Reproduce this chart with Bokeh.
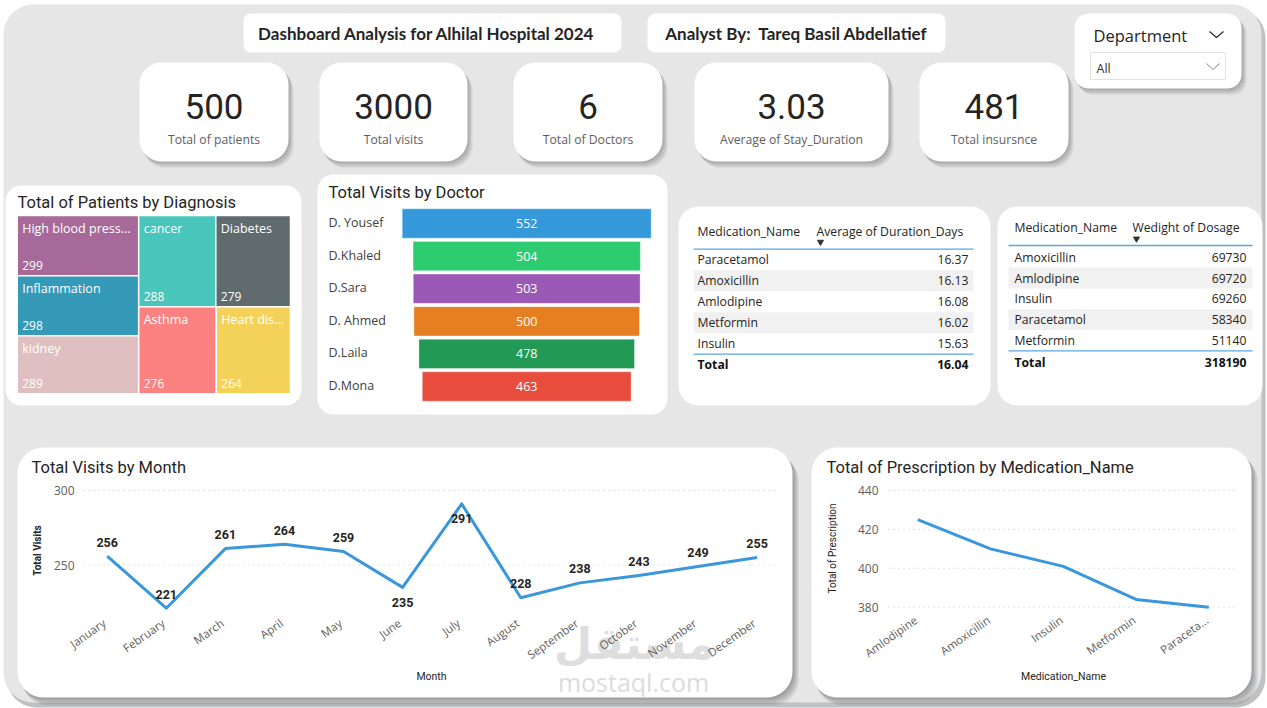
import math
from bokeh.plotting import figure
from bokeh.models import Range1d
from bokeh.core.properties import value
from bokeh.embed import file_html
from bokeh.resources import INLINE

W, H = 1267, 708

# ---------------- data ----------------
report_title = "Dashboard Analysis for Alhilal Hospital 2024"
analyst_line = "Analyst By:  Tareq Basil Abdellatief"
slicer_title = "Department"
slicer_value = "All"

kpi_values = ["500", "3000", "6", "3.03", "481"]
kpi_labels = ["Total of patients", "Total visits", "Total of Doctors",
              "Average of Stay_Duration", "Total insursnce"]

diagnosis = ["High blood pressure", "Inflammation", "kidney", "cancer",
             "Diabetes", "Asthma", "Heart disease"]
diagnosis_patients = [299, 298, 289, 288, 279, 276, 264]
diagnosis_colors = ["#A66999", "#3599B8", "#DFBFBF", "#4AC5BB",
                    "#5F6B6D", "#FB8281", "#F4D25A"]

doctors = ["D. Yousef", "D.Khaled", "D.Sara", "D. Ahmed", "D.Laila", "D.Mona"]
doctor_visits = [552, 504, 503, 500, 478, 463]
doctor_colors = ["#3498DB", "#2ECC71", "#9B59B6", "#E67E22", "#229954", "#E74C3C"]

duration_meds = ["Paracetamol", "Amoxicillin", "Amlodipine", "Metformin", "Insulin"]
duration_days = [16.37, 16.13, 16.08, 16.02, 15.63]
duration_total = 16.04

dosage_meds = ["Amoxicillin", "Amlodipine", "Insulin", "Paracetamol", "Metformin"]
dosage_weight = [69730, 69720, 69260, 58340, 51140]

months = ["January", "February", "March", "April", "May", "June", "July",
          "August", "September", "October", "November", "December"]
month_visits = [256, 221, 261, 264, 259, 235, 291, 228, 238, 243, 249, 255]
month_ticks = [250, 300]

rx_meds = ["Amlodipine", "Amoxicillin", "Insulin", "Metformin", "Paracetamol"]
rx_totals = [425, 410, 401, 384, 380]
rx_ticks = [380, 400, 420, 440]

# ---------------- styling ----------------
DIN = value("Roboto")
UI = value("Open Sans")
INK = "#252423"
GREY = "#605E5C"
LINE_BLUE = "#3A97DB"
TABLE_RULE = "#58A6E3"

p = figure(width=W, height=H, x_range=Range1d(0, W), y_range=Range1d(H, 0),
           output_backend="svg", toolbar_location=None, min_border=0)
p.axis.visible = False
p.grid.visible = False
p.outline_line_color = None
p.background_fill_color = "white"
p.border_fill_color = "white"


def rounded(x0, y0, x1, y1, r, n=10):
    xs, ys = [], []
    corners = [((x0 + r, y0 + r), 180), ((x1 - r, y0 + r), 270),
               ((x1 - r, y1 - r), 0), ((x0 + r, y1 - r), 90)]
    for (cx, cy), a0 in corners:
        for k in range(n + 1):
            t = math.radians(a0 + 90 * k / n)
            xs.append(cx + r * math.cos(t))
            ys.append(cy + r * math.sin(t))
    return xs, ys


def card(x0, y0, x1, y1, r, color="white", shadow=0):
    for k in range(shadow):
        d = 1.5 + 1.6 * k
        xs, ys = rounded(x0 + d * 0.6, y0 + d, x1 + d * 0.8, y1 + d, r)
        p.patch(xs, ys, fill_color="#000000", fill_alpha=0.07, line_color=None)
    xs, ys = rounded(x0, y0, x1, y1, r)
    p.patch(xs, ys, fill_color=color, line_color=None)


def label(x, y, s, size, color=INK, font=UI, align="left", baseline="middle",
          style="normal", angle=0.0, **kw):
    xs = x if isinstance(x, list) else [x]
    ys = y if isinstance(y, list) else [y] * len(xs)
    ss = s if isinstance(s, list) else [s] * len(xs)
    ss = [t.replace("  ", "\u00a0 ") for t in ss]
    p.text(x=xs, y=ys, text=ss, text_font=font, text_font_size=f"{size}px",
           text_color=color, text_align=align, text_baseline=baseline,
           text_font_style=style, angle=angle, **kw)


def linear(v_a, px_a, v_b, px_b, px_lo, px_hi):
    k = (v_b - v_a) / (px_b - px_a)
    return Range1d(v_a + (px_lo - px_a) * k, v_a + (px_hi - px_a) * k)


# ---------------- canvas ----------------
xs, ys = rounded(6, 8, 1265, 707, 30)
p.patch(xs, ys, fill_color="#BEC1C4", line_color=None)
xs, ys = rounded(3, 4, 1261, 702, 30)
p.patch(xs, ys, fill_color="#E6E6E6", line_color=None)

# header boxes
card(243, 13, 621, 52, 8)
label(426, 33, report_title, 17, font=value("Lato"), align="center", style="bold")
card(647, 13, 945, 52, 8)
label(796, 33, analyst_line, 17, font=value("Lato"), align="center", style="bold")

# department slicer
card(1074, 13, 1241, 88, 14, shadow=4)
label(1093, 35, slicer_title, 16.5, color="#252423")
p.line([1209, 1216, 1223], [31, 37, 31], line_color="#333333", line_width=1.3)
p.quad(left=1090, right=1225, top=52, bottom=79, fill_color="white",
       line_color="#E3E3E3", line_width=1)
label(1096, 68, slicer_value, 12.5, color="#333333")
p.line([1206, 1212.5, 1219], [63, 69, 63], line_color="#7F8A99", line_width=1)

# KPI cards
kpi_boxes = [(139, 288), (319, 467), (513, 662), (694, 888), (919, 1068)]
for (a, b), v, t in zip(kpi_boxes, kpi_values, kpi_labels):
    card(a, 62, b, 161, 22, shadow=4)
    label((a + b) / 2, 106, v, 35, font=DIN, align="center")
    label((a + b) / 2, 139, t, 12.2, color=GREY, align="center")

# ---------------- treemap ----------------
card(5, 185, 301, 405, 16)
label(17, 202, "Total of Patients by Diagnosis", 16.5, font=DIN)
TM_X0, TM_X1, TM_Y0, TM_Y1 = 16.7, 290.0, 215.0, 393.3
p.extra_x_ranges["tm_x"] = linear(0, TM_X0, 1, TM_X1, 0, W)
p.extra_y_ranges["tm_y"] = linear(0, TM_Y0, 1, TM_Y1, H, 0)

total_patients = sum(diagnosis_patients)
first_col = [0, 1, 2]
rest_rows = [[3, 4], [5, 6]]
col_w = sum(diagnosis_patients[i] for i in first_col) / total_patients
tiles = {}
top = 0.0
col_sum = sum(diagnosis_patients[i] for i in first_col)
for i in first_col:
    h = diagnosis_patients[i] / col_sum
    tiles[i] = (0.0, col_w, top, top + h)
    top += h
rest_sum = sum(diagnosis_patients[i] for row in rest_rows for i in row)
top = 0.0
for row in rest_rows:
    row_sum = sum(diagnosis_patients[i] for i in row)
    h = row_sum / rest_sum
    left = col_w
    for i in row:
        w = (1 - col_w) * diagnosis_patients[i] / row_sum
        tiles[i] = (left, left + w, top, top + h)
        left += w
    top += h

order = list(range(len(diagnosis)))
p.quad(left=[tiles[i][0] for i in order], right=[tiles[i][1] for i in order],
       top=[tiles[i][2] for i in order], bottom=[tiles[i][3] for i in order],
       fill_color=diagnosis_colors, line_color="white", line_width=1.5,
       x_range_name="tm_x", y_range_name="tm_y")


def fit(name, px_width, char_px=6.6):
    room = int((px_width - 10) / char_px)
    return name if len(name) <= room else name[:room] + "..."


tile_names = [fit(diagnosis[i], (tiles[i][1] - tiles[i][0]) * (TM_X1 - TM_X0)) for i in order]
label([tiles[i][0] for i in order], [tiles[i][2] for i in order], tile_names, 12.5,
      color="white", x_offset=5, y_offset=13, x_range_name="tm_x", y_range_name="tm_y")
label([tiles[i][0] for i in order], [tiles[i][3] for i in order],
      [str(diagnosis_patients[i]) for i in order], 12, color="white",
      x_offset=5, y_offset=-10, x_range_name="tm_x", y_range_name="tm_y")

# ---------------- visits by doctor ----------------
card(317, 174, 667, 414, 16)
label(328, 192, "Total Visits by Doctor", 16.5, font=DIN)
p.extra_x_ranges["doc_x"] = linear(0, 526.2, 100, 526.2 + 45.1, 0, W)
p.extra_y_ranges["doc_y"] = linear(0, 223.0, 1, 255.6, H, 0)
doc_idx = list(range(len(doctors)))
p.hbar(y=doc_idx, left=[-v / 2 for v in doctor_visits], right=[v / 2 for v in doctor_visits],
       height=0.9, fill_color=doctor_colors, line_color="white", line_alpha=0.35,
       x_range_name="doc_x", y_range_name="doc_y")
label([0] * len(doctors), doc_idx, [str(v) for v in doctor_visits], 12.5, color="white",
      align="center", x_range_name="doc_x", y_range_name="doc_y")
label([328] * len(doctors), doc_idx, doctors, 12.5, color="#404040", y_offset=-1,
      y_range_name="doc_y")

# ---------------- tables ----------------
def table(x0, y0, x1, y1, name_x, col2_x, val_x, rule_x0, rule_x1, head_y, rule_y,
          row_y0, row_step, end_rule_y, total_y, header2, names, vals, total):
    card(x0, y0, x1, y1, 20)
    n = len(names)
    for i in range(n):
        if i % 2 == 1:
            cy = row_y0 + i * row_step
            p.quad(left=rule_x0, right=rule_x1, top=cy - row_step / 2, bottom=cy + row_step / 2,
                   fill_color="#F1F1F1", line_color=None)
    label(name_x, head_y, "Medication_Name", 12.2, color=INK)
    label(col2_x, head_y, header2, 12.2, color=INK)
    p.scatter([col2_x + 4], [head_y + 11], marker="inverted_triangle", size=6,
              color="#333333")
    p.segment(rule_x0, rule_y, rule_x1, rule_y, line_color=TABLE_RULE, line_width=1.3)
    label([name_x] * n, [row_y0 + i * row_step for i in range(n)], names, 12.2, color=INK)
    label([val_x] * n, [row_y0 + i * row_step for i in range(n)], vals, 12.2, color=INK,
          align="right")
    p.segment(rule_x0, end_rule_y, rule_x1, end_rule_y, line_color=TABLE_RULE, line_width=1.3)
    label(name_x, total_y, "Total", 12.2, color="#111111", style="bold")
    label(val_x, total_y, total, 12.2, color="#111111", style="bold", align="right")


table(678, 206, 990, 405, 697, 816, 968, 693, 973, 230.5, 248.7, 259.3, 21.0, 353.7, 364.3,
      "Average of Duration_Days", duration_meds, [f"{v:.2f}" for v in duration_days],
      f"{duration_total:.2f}")
table(997, 206, 1262, 405, 1014, 1132, 1246, 1008, 1252, 227.3, 245.0, 256.7, 20.8, 350.3, 362.3,
      "Wedight of Dosage", dosage_meds, [str(v) for v in dosage_weight],
      str(sum(dosage_weight)))

# ---------------- visits by month ----------------
card(17, 447, 792, 697, 26, shadow=5)
label(31, 467, "Total Visits by Month", 16.5, font=DIN)
p.extra_x_ranges["m_x"] = linear(0, 106.7, 11, 756.6, 0, W)
p.extra_y_ranges["m_y"] = linear(250, 564.5, 300, 490.0, H, 0)
p.segment(x0=[83] * len(month_ticks), x1=[778] * len(month_ticks), y0=month_ticks,
          y1=month_ticks, line_color="#C8C8C8", line_dash="1 4", line_width=1,
          y_range_name="m_y")
label([74] * len(month_ticks), month_ticks, [str(t) for t in month_ticks], 12, color=GREY,
      align="right", y_range_name="m_y")
label(37, 550, "Total Visits", 10, color=INK, font=DIN, style="bold", align="center",
      angle=math.pi / 2)
label(431, 676, "Month", 10.5, color=INK, font=DIN, align="center")

# watermark of the publishing site
label(634, 643, "مستقل", 44, color="#DEDEDE", font=value("DejaVu Sans"), style="bold",
      align="center")
label(633, 681, "mostaql.com", 25, color="#DCDCDC", font=UI, align="center")

m_idx = list(range(len(months)))
p.line(m_idx, month_visits, line_color=LINE_BLUE, line_width=3, line_join="round",
       x_range_name="m_x", y_range_name="m_y")
below_labels = {"June", "July"}
label(m_idx, month_visits, [str(v) for v in month_visits], 12.5, font=DIN, style="bold",
      align="center", y_offset=[15 if m in below_labels else -14 for m in months],
      x_range_name="m_x", y_range_name="m_y")
label(m_idx, [621] * len(months), months, 11.5, color=GREY, align="right",
      angle=0.62, x_offset=-3, x_range_name="m_x")

# ---------------- prescriptions by medication ----------------
card(811, 447, 1251, 697, 26, shadow=5)
label(826, 467, "Total of Prescription by Medication_Name", 16.5, font=DIN)
p.extra_x_ranges["r_x"] = linear(0, 917.3, 4, 1208.3, 0, W)
p.extra_y_ranges["r_y"] = linear(380, 606.7, 440, 490.0, H, 0)
p.segment(x0=[888] * len(rx_ticks), x1=[1234] * len(rx_ticks), y0=rx_ticks, y1=rx_ticks,
          line_color="#C8C8C8", line_dash="1 4", line_width=1, y_range_name="r_y")
label([878] * len(rx_ticks), rx_ticks, [str(t) for t in rx_ticks], 12, color=GREY,
      align="right", y_range_name="r_y")
label(832, 548, "Total of Prescription", 10, color=INK, font=DIN, align="center",
      angle=math.pi / 2)
label(1063, 676, "Medication_Name", 10.5, color=INK, font=DIN, align="center")
r_idx = list(range(len(rx_meds)))
p.line(r_idx, rx_totals, line_color=LINE_BLUE, line_width=3, line_join="round",
       x_range_name="r_x", y_range_name="r_y")


def short(name, limit=9.0):
    w = sum(0.5 if c in "il" else 1.0 for c in name)
    return name if w <= limit else name[:8] + "..."


label(r_idx, [618] * len(rx_meds), [short(m) for m in rx_meds], 11.5, color=GREY,
      align="right", angle=0.62, x_offset=-2, x_range_name="r_x")

open("out.html", "w").write(file_html(p, INLINE))
